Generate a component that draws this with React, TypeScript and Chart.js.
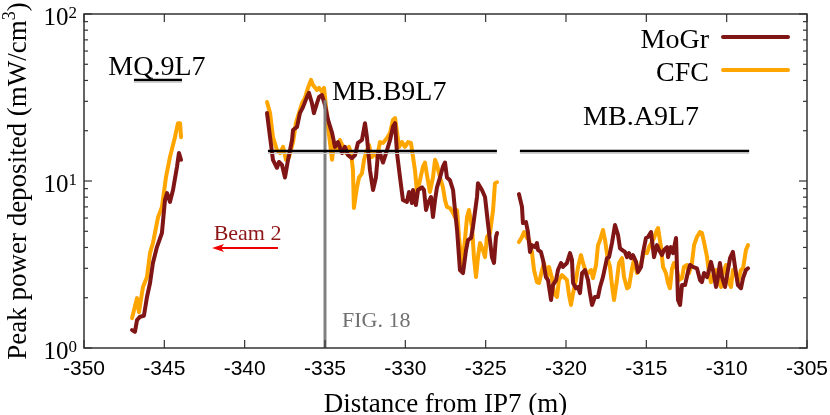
import React, { useEffect, useRef } from 'react';
import { Chart, registerables } from 'chart.js';

Chart.register(...registerables);

// ---------------- data (distance from IP7 in m, peak power in mW/cm3) ----------------
const MOGR_SEG1: [number, number][] = [
  [-347.01, 1.28], [-346.83, 1.25], [-346.70, 1.47], [-346.51, 1.54], [-346.27, 1.56],
  [-346.08, 2.02], [-345.89, 2.45], [-345.71, 3.23], [-345.46, 4.02], [-345.15, 4.88],
  [-344.96, 7.70], [-344.83, 8.47], [-344.65, 7.49], [-344.46, 8.83], [-344.21, 12.2],
  [-344.09, 14.7], [-343.96, 13.4],
];
const CFC_SEG1: [number, number][] = [
  [-347.01, 1.51], [-346.70, 1.99], [-346.58, 1.64], [-346.33, 2.32], [-346.08, 2.66],
  [-345.89, 3.70], [-345.71, 4.25], [-345.39, 6.08], [-345.15, 6.99], [-344.90, 10.5],
  [-344.65, 13.9], [-344.34, 18.3], [-344.15, 22.2], [-344.02, 22.2], [-343.96, 18.3],
];
const MOGR_SEG2: [number, number][] = [
  [-338.61, 25.5], [-338.42, 18.3], [-338.24, 13.4], [-337.99, 12.0], [-337.86, 13.0],
  [-337.68, 12.5], [-337.49, 10.5], [-337.30, 13.4], [-337.05, 17.6], [-336.99, 20.2],
  [-336.74, 21.1], [-336.56, 25.5], [-336.37, 27.7], [-336.12, 31.9], [-336.00, 33.7],
  [-335.81, 29.2], [-335.69, 25.5], [-335.50, 29.2], [-335.37, 31.9], [-335.19, 32.7],
  [-335.00, 28.5], [-334.81, 23.2], [-334.56, 19.4], [-334.38, 16.0], [-334.19, 17.1],
  [-333.94, 14.7], [-333.76, 16.0], [-333.57, 14.3], [-333.32, 13.7], [-333.13, 14.3],
  [-332.95, 16.9], [-332.70, 17.6], [-332.51, 22.2], [-332.39, 18.3], [-332.20, 11.6],
  [-332.01, 8.83], [-331.83, 10.5], [-331.70, 14.7], [-331.58, 14.7], [-331.39, 12.9],
  [-331.14, 15.3], [-330.95, 17.6], [-330.77, 21.1], [-330.64, 22.2], [-330.52, 14.7],
  [-330.33, 10.5], [-330.15, 7.70], [-329.90, 7.49], [-329.77, 8.59], [-329.59, 7.38],
  [-329.52, 8.83], [-329.34, 7.18], [-329.21, 8.83], [-328.96, 9.17], [-328.84, 8.83],
  [-328.71, 6.70], [-328.59, 7.38], [-328.40, 8.02], [-328.28, 6.08], [-328.15, 7.70],
  [-328.03, 9.17], [-327.84, 10.5], [-327.66, 12.2], [-327.53, 12.9], [-327.41, 10.5],
  [-327.22, 10.1], [-327.03, 8.83], [-326.91, 6.70], [-326.78, 5.09], [-326.60, 2.93],
  [-326.41, 2.81], [-326.22, 3.86], [-326.10, 4.43], [-325.91, 4.56], [-325.79, 5.30],
  [-325.54, 8.02], [-325.48, 9.69], [-325.23, 8.83], [-325.04, 8.02], [-324.86, 5.60],
  [-324.61, 3.50], [-324.48, 3.23], [-324.36, 4.62], [-324.29, 4.88],
];
const CFC_SEG2: [number, number][] = [
  [-338.61, 29.7], [-338.42, 25.5], [-338.24, 18.3], [-337.99, 15.3], [-337.80, 14.7],
  [-337.61, 16.0], [-337.43, 13.4], [-337.24, 13.9], [-336.99, 17.1], [-336.81, 22.2],
  [-336.62, 25.5], [-336.43, 29.2], [-336.25, 31.4], [-336.06, 36.1], [-335.87, 40.3],
  [-335.75, 37.6], [-335.50, 35.1], [-335.37, 36.1], [-335.19, 34.2], [-335.06, 36.1],
  [-334.81, 21.1], [-334.56, 13.4], [-334.44, 16.9], [-334.25, 15.3], [-334.07, 17.6],
  [-333.88, 16.0], [-333.69, 14.7], [-333.51, 16.0], [-333.38, 14.7], [-333.26, 11.6],
  [-333.20, 6.89], [-333.01, 9.17], [-332.88, 10.5], [-332.70, 11.1], [-332.57, 13.4],
  [-332.39, 15.3], [-332.26, 16.4], [-332.08, 13.9], [-331.89, 14.7], [-331.76, 13.9],
  [-331.58, 17.1], [-331.39, 16.9], [-331.14, 18.1], [-330.95, 19.4], [-330.77, 23.2],
  [-330.64, 23.8], [-330.52, 19.7], [-330.39, 16.0], [-330.21, 17.1], [-330.02, 16.0],
  [-329.83, 17.1], [-329.65, 16.9], [-329.52, 13.9], [-329.40, 11.6], [-329.27, 8.47],
  [-329.09, 10.1], [-328.90, 12.2], [-328.78, 12.9], [-328.65, 10.8], [-328.47, 8.59],
  [-328.28, 10.5], [-328.15, 13.4], [-328.03, 12.5], [-327.84, 10.5], [-327.66, 9.17],
  [-327.53, 7.70], [-327.41, 6.99], [-327.22, 6.89], [-327.03, 6.43], [-326.91, 6.08],
  [-326.78, 6.70], [-326.66, 4.62], [-326.47, 3.06], [-326.35, 3.86], [-326.16, 6.08],
  [-326.04, 6.70], [-325.85, 5.30], [-325.73, 3.50], [-325.60, 2.66], [-325.48, 3.50],
  [-325.35, 4.25], [-325.17, 3.86], [-325.04, 3.50], [-324.92, 4.62], [-324.73, 4.88],
  [-324.54, 6.70], [-324.42, 9.69], [-324.29, 9.83],
];
const MOGR_SEG3: [number, number][] = [
  [-322.93, 8.35], [-322.74, 7.00], [-322.68, 5.60], [-322.49, 5.68], [-322.37, 4.95],
  [-322.24, 3.76], [-322.12, 4.13], [-321.93, 4.02], [-321.81, 4.25], [-321.74, 3.86],
  [-321.56, 3.76], [-321.43, 3.37], [-321.25, 2.66], [-321.12, 2.55], [-320.93, 1.94],
  [-320.81, 2.38], [-320.62, 2.55], [-320.50, 2.93], [-320.31, 3.23], [-320.19, 3.06],
  [-319.94, 3.23], [-319.75, 3.70], [-319.63, 3.37], [-319.56, 2.45], [-319.38, 2.28],
  [-319.25, 2.32], [-319.13, 2.13], [-319.00, 2.81], [-318.82, 2.93], [-318.63, 2.55],
  [-318.51, 2.13], [-318.38, 1.81], [-318.20, 2.02], [-318.01, 2.02], [-317.88, 2.32],
  [-317.70, 2.66], [-317.45, 3.45], [-317.32, 3.50], [-317.14, 4.25], [-316.95, 5.45],
  [-316.76, 4.75], [-316.64, 3.96], [-316.51, 3.86], [-316.33, 3.76], [-316.20, 3.50],
  [-316.08, 3.70], [-315.95, 3.45], [-315.83, 3.60], [-315.64, 3.28], [-315.52, 2.85],
  [-315.33, 3.06], [-315.21, 3.70], [-315.02, 4.56], [-314.90, 4.62], [-314.71, 4.95],
  [-314.65, 4.43], [-314.52, 3.50], [-314.34, 4.13], [-314.21, 3.86], [-314.03, 3.60],
  [-313.90, 3.86], [-313.71, 4.02], [-313.65, 3.50], [-313.47, 4.02], [-313.34, 3.70],
  [-313.15, 4.56], [-313.03, 1.94], [-312.90, 1.81], [-312.78, 2.38], [-312.59, 2.38],
  [-312.41, 2.85], [-312.28, 3.14], [-312.10, 3.06], [-311.85, 3.00], [-311.66, 2.55],
  [-311.54, 2.48], [-311.41, 2.81], [-311.22, 2.66], [-311.10, 2.93], [-310.98, 3.28],
  [-310.85, 2.93], [-310.66, 2.32], [-310.54, 2.66], [-310.42, 3.23], [-310.29, 2.66],
  [-310.10, 2.32], [-309.92, 2.93], [-309.79, 3.45], [-309.61, 3.76], [-309.48, 3.06],
  [-309.30, 2.38], [-309.11, 2.28], [-308.98, 2.62], [-308.80, 2.93], [-308.67, 3.00],
];
const CFC_SEG3: [number, number][] = [
  [-322.93, 4.31], [-322.74, 4.62], [-322.61, 4.95], [-322.43, 4.56], [-322.30, 4.43],
  [-322.12, 3.76], [-321.99, 2.93], [-321.81, 2.48], [-321.68, 2.45], [-321.49, 2.93],
  [-321.37, 3.23], [-321.18, 2.66], [-321.06, 3.06], [-320.87, 2.62], [-320.75, 2.13],
  [-320.56, 2.02], [-320.44, 2.55], [-320.25, 2.73], [-320.13, 2.66], [-319.94, 2.55],
  [-319.81, 2.07], [-319.69, 1.81], [-319.56, 2.13], [-319.38, 2.55], [-319.25, 3.06],
  [-319.07, 3.60], [-318.94, 3.23], [-318.76, 2.85], [-318.63, 2.81], [-318.44, 2.93],
  [-318.32, 2.62], [-318.13, 3.14], [-318.01, 4.13], [-317.88, 4.43], [-317.70, 5.09],
  [-317.57, 4.43], [-317.39, 3.37], [-317.26, 3.06], [-317.14, 2.38], [-317.01, 1.94],
  [-316.83, 2.55], [-316.70, 3.23], [-316.51, 3.45], [-316.39, 2.66], [-316.20, 2.28],
  [-316.08, 2.32], [-315.89, 3.00], [-315.77, 3.37], [-315.58, 2.81], [-315.46, 2.93],
  [-315.27, 3.37], [-315.15, 3.76], [-314.96, 3.70], [-314.83, 4.02], [-314.65, 4.31],
  [-314.52, 4.56], [-314.34, 5.09], [-314.27, 5.23], [-314.09, 4.02], [-313.96, 3.06],
  [-313.78, 2.81], [-313.65, 2.45], [-313.53, 2.28], [-313.40, 3.00], [-313.28, 3.23],
  [-313.09, 2.93], [-312.97, 2.55], [-312.78, 2.62], [-312.66, 3.06], [-312.47, 3.14],
  [-312.34, 2.81], [-312.16, 3.23], [-312.03, 4.13], [-311.85, 4.62], [-311.66, 4.95],
  [-311.54, 4.88], [-311.41, 4.31], [-311.22, 3.50], [-311.10, 2.81], [-310.98, 2.48],
  [-310.85, 2.66], [-310.66, 2.93], [-310.54, 2.55], [-310.35, 2.32], [-310.23, 2.81],
  [-310.04, 3.14], [-309.92, 2.55], [-309.73, 2.32], [-309.61, 2.93], [-309.42, 2.81],
  [-309.30, 2.48], [-309.11, 2.93], [-308.98, 3.00], [-308.80, 3.86], [-308.67, 4.13],
];

const SERIES_NAMES = ['MoGr', 'CFC'];
const SERIES_COLORS = ['#7f1515', '#ffa500'];

const X_TICKS = [-350, -345, -340, -335, -330, -325, -320, -315, -310, -305];
const X_TICK_LABELS = ['-350', '-345', '-340', '-335', '-330', '-325', '-320', '-315', '-310', '-305'];
const Y_MAJOR = [1, 10, 100];
const Y_EXPONENTS = ['0', '1', '2'];
const Y_MINOR = [2, 3, 4, 5, 6, 7, 8, 9, 20, 30, 40, 50, 60, 70, 80, 90];

const X_TITLE = 'Distance from IP7 (m)';
const Y_TITLE_MAIN = 'Peak power deposited (mW/cm';
const Y_TITLE_SUP = '3';
const Y_TITLE_END = ')';

// magnet extents (m) and the level (mW/cm3) at which each bar is drawn
const MAGNET_NAMES = ['MQ.9L7', 'MB.B9L7', 'MB.A9L7'];
const MAGNET_X0 = [-346.89, -338.55, -322.87];
const MAGNET_X1 = [-343.9, -324.3, -308.6];
const MAGNET_LEVEL = [40.3, 15.1, 15.1];
const MAGNET_LABEL_X = [-345.46, -334.56, -315.33];
const MAGNET_LABEL_Y = [43.1, 30.5, 21.7];
const MAGNET_LABEL_ALIGN: CanvasTextAlign[] = ['center', 'left', 'center'];

const FIG_LINE_X = -335;
const FIG_LINE_TOP = 30.5;
const FIG_LABEL = 'FIG. 18';
const FIG_LABEL_POS = [-333.94, 1.336];

const BEAM_LABEL = 'Beam 2';
const BEAM_LABEL_POS = [-339.82, 4.43];
const BEAM_ARROW_FROM = [-337.93, 3.97];
const BEAM_ARROW_TO = [-342.03, 3.97];

const SERIF = "'Liberation Serif', 'Times New Roman', serif";
const SANS = "'Liberation Sans', Arial, sans-serif";

const toPts = (arr: [number, number][]) => arr.map(([x, y]) => ({ x, y }));

const decorPlugin = {
  id: 'decor',
  afterDatasetsDraw(chart: any) {
    const { ctx, chartArea: a } = chart;
    const xs = chart.scales.x;
    const ys = chart.scales.y;
    const X = (v: number) => xs.getPixelForValue(v);
    const Y = (v: number) => ys.getPixelForValue(v);
    const line = (x0: number, y0: number, x1: number, y1: number) => {
      ctx.beginPath();
      ctx.moveTo(x0, y0);
      ctx.lineTo(x1, y1);
      ctx.stroke();
    };
    ctx.save();
    ctx.lineCap = 'butt';

    // vertical reference line
    ctx.strokeStyle = '#808080';
    ctx.lineWidth = 3;
    line(X(FIG_LINE_X), Y(FIG_LINE_TOP), X(FIG_LINE_X), a.bottom);

    // magnet bars
    for (let i = 0; i < MAGNET_NAMES.length; i++) {
      const yy = Math.round(Y(MAGNET_LEVEL[i]));
      ctx.strokeStyle = '#d0d0d0';
      ctx.lineWidth = 1;
      line(X(MAGNET_X0[i]), yy + 2.5, X(MAGNET_X1[i]), yy + 2.5);
      ctx.strokeStyle = '#000';
      ctx.lineWidth = 2.5;
      line(X(MAGNET_X0[i]), yy, X(MAGNET_X1[i]), yy);
    }
    ctx.fillStyle = '#000';
    ctx.font = `28px ${SERIF}`;
    ctx.textBaseline = 'alphabetic';
    for (let i = 0; i < MAGNET_NAMES.length; i++) {
      ctx.textAlign = MAGNET_LABEL_ALIGN[i];
      ctx.fillText(MAGNET_NAMES[i], X(MAGNET_LABEL_X[i]), Y(MAGNET_LABEL_Y[i]));
    }

    // FIG label
    ctx.fillStyle = '#707070';
    ctx.font = `22px ${SERIF}`;
    ctx.textAlign = 'left';
    ctx.fillText(FIG_LABEL, X(FIG_LABEL_POS[0]), Y(FIG_LABEL_POS[1]));

    // Beam 2 label and arrow
    ctx.fillStyle = '#8e1616';
    ctx.font = `22px ${SERIF}`;
    ctx.textAlign = 'center';
    ctx.fillText(BEAM_LABEL, X(BEAM_LABEL_POS[0]), Y(BEAM_LABEL_POS[1]));
    const ax0 = X(BEAM_ARROW_FROM[0]);
    const ay = Y(BEAM_ARROW_FROM[1]);
    const ax1 = X(BEAM_ARROW_TO[0]);
    ctx.strokeStyle = '#ee0000';
    ctx.fillStyle = '#ee0000';
    ctx.lineWidth = 2;
    line(ax0, ay, ax1 + 6, ay);
    ctx.beginPath();
    ctx.moveTo(ax1, ay);
    ctx.lineTo(ax1 + 12, ay - 4);
    ctx.lineTo(ax1 + 9, ay);
    ctx.lineTo(ax1 + 12, ay + 4);
    ctx.closePath();
    ctx.fill();

    // frame
    ctx.strokeStyle = '#333';
    ctx.lineWidth = 1.5;
    ctx.strokeRect(a.left, a.top, a.right - a.left, a.bottom - a.top);

    // ticks (inward, mirrored)
    ctx.lineWidth = 1.2;
    for (const v of X_TICKS) {
      const px = X(v);
      line(px, a.bottom, px, a.bottom - 8);
      line(px, a.top, px, a.top + 8);
    }
    for (const v of Y_MAJOR) {
      const py = Y(v);
      line(a.left, py, a.left + 8, py);
      line(a.right, py, a.right - 8, py);
    }
    for (const v of Y_MINOR) {
      const py = Y(v);
      line(a.left, py, a.left + 4, py);
      line(a.right, py, a.right - 4, py);
    }

    // x tick labels
    ctx.fillStyle = '#000';
    ctx.font = `21px ${SANS}`;
    ctx.textAlign = 'center';
    X_TICKS.forEach((v, i) => ctx.fillText(X_TICK_LABELS[i], X(v), a.bottom + 27));

    // y tick labels 10^n
    Y_MAJOR.forEach((v, i) => {
      const py = Y(v);
      ctx.font = `17px ${SERIF}`;
      const we = ctx.measureText(Y_EXPONENTS[i]).width;
      ctx.textAlign = 'right';
      ctx.fillText(Y_EXPONENTS[i], a.left - 7, py + 4);
      ctx.font = `25px ${SERIF}`;
      ctx.fillText('10', a.left - 7 - we, py + 11);
    });

    // x title
    ctx.font = `27px ${SERIF}`;
    ctx.textAlign = 'center';
    ctx.fillText(X_TITLE, (a.left + a.right) / 2, a.bottom + 64);

    // y title (rotated)
    ctx.save();
    ctx.translate(26, (a.top + a.bottom) / 2);
    ctx.rotate(-Math.PI / 2);
    ctx.textAlign = 'left';
    ctx.font = `27px ${SERIF}`;
    const w1 = ctx.measureText(Y_TITLE_MAIN).width;
    const w3 = ctx.measureText(Y_TITLE_END).width;
    ctx.font = `18px ${SERIF}`;
    const w2 = ctx.measureText(Y_TITLE_SUP).width;
    const start = -(w1 + w2 + w3) / 2;
    ctx.font = `27px ${SERIF}`;
    ctx.fillText(Y_TITLE_MAIN, start, 0);
    ctx.fillText(Y_TITLE_END, start + w1 + w2, 0);
    ctx.font = `18px ${SERIF}`;
    ctx.fillText(Y_TITLE_SUP, start + w1, -11);
    ctx.restore();

    // legend
    ctx.font = `28px ${SERIF}`;
    ctx.textAlign = 'right';
    SERIES_NAMES.forEach((name, i) => {
      const ly = a.top + 23 + i * 33;
      ctx.fillStyle = '#000';
      ctx.fillText(name, a.right - 98, ly + 11);
      ctx.strokeStyle = SERIES_COLORS[i];
      ctx.lineWidth = 4;
      ctx.lineCap = 'round';
      line(a.right - 84, ly, a.right - 19, ly);
      ctx.lineCap = 'butt';
    });

    ctx.restore();
  },
};

export default function App() {
  const ref = useRef<HTMLCanvasElement | null>(null);
  useEffect(() => {
    document.body.style.margin = '0';
    document.body.style.overflow = 'hidden';
    const canvas = ref.current;
    if (!canvas) return;
    const ds = (data: [number, number][], color: string) => ({
      data: toPts(data),
      borderColor: color,
      backgroundColor: color,
      borderWidth: 4,
      pointRadius: 0,
      tension: 0,
      fill: false,
      borderJoinStyle: 'round' as const,
      borderCapStyle: 'round' as const,
    });
    const chart = new Chart(canvas, {
      type: 'line',
      data: {
        datasets: [
          ds(MOGR_SEG1, SERIES_COLORS[0]),
          ds(MOGR_SEG2, SERIES_COLORS[0]),
          ds(MOGR_SEG3, SERIES_COLORS[0]),
          ds(CFC_SEG1, SERIES_COLORS[1]),
          ds(CFC_SEG2, SERIES_COLORS[1]),
          ds(CFC_SEG3, SERIES_COLORS[1]),
        ],
      },
      options: {
        animation: false,
        responsive: false,
        devicePixelRatio: 1,
        layout: { padding: { left: 0, right: 23, top: 14, bottom: 0 } },
        plugins: { legend: { display: false }, tooltip: { enabled: false } },
        scales: {
          x: {
            type: 'linear',
            min: -350,
            max: -305,
            grid: { display: false },
            border: { display: false },
            ticks: { display: false },
            afterFit: (s: any) => { s.height = 67; },
          },
          y: {
            type: 'logarithmic',
            min: 1,
            max: 100,
            grid: { display: false },
            border: { display: false },
            ticks: { display: false },
            afterFit: (s: any) => { s.width = 84; },
          },
        },
      },
      plugins: [decorPlugin],
    });
    return () => chart.destroy();
  }, []);
  return (
    <div style={{ width: 830, height: 415 }}>
      <canvas ref={ref} width={830} height={415} style={{ display: 'block', width: 830, height: 415 }} />
    </div>
  );
}
